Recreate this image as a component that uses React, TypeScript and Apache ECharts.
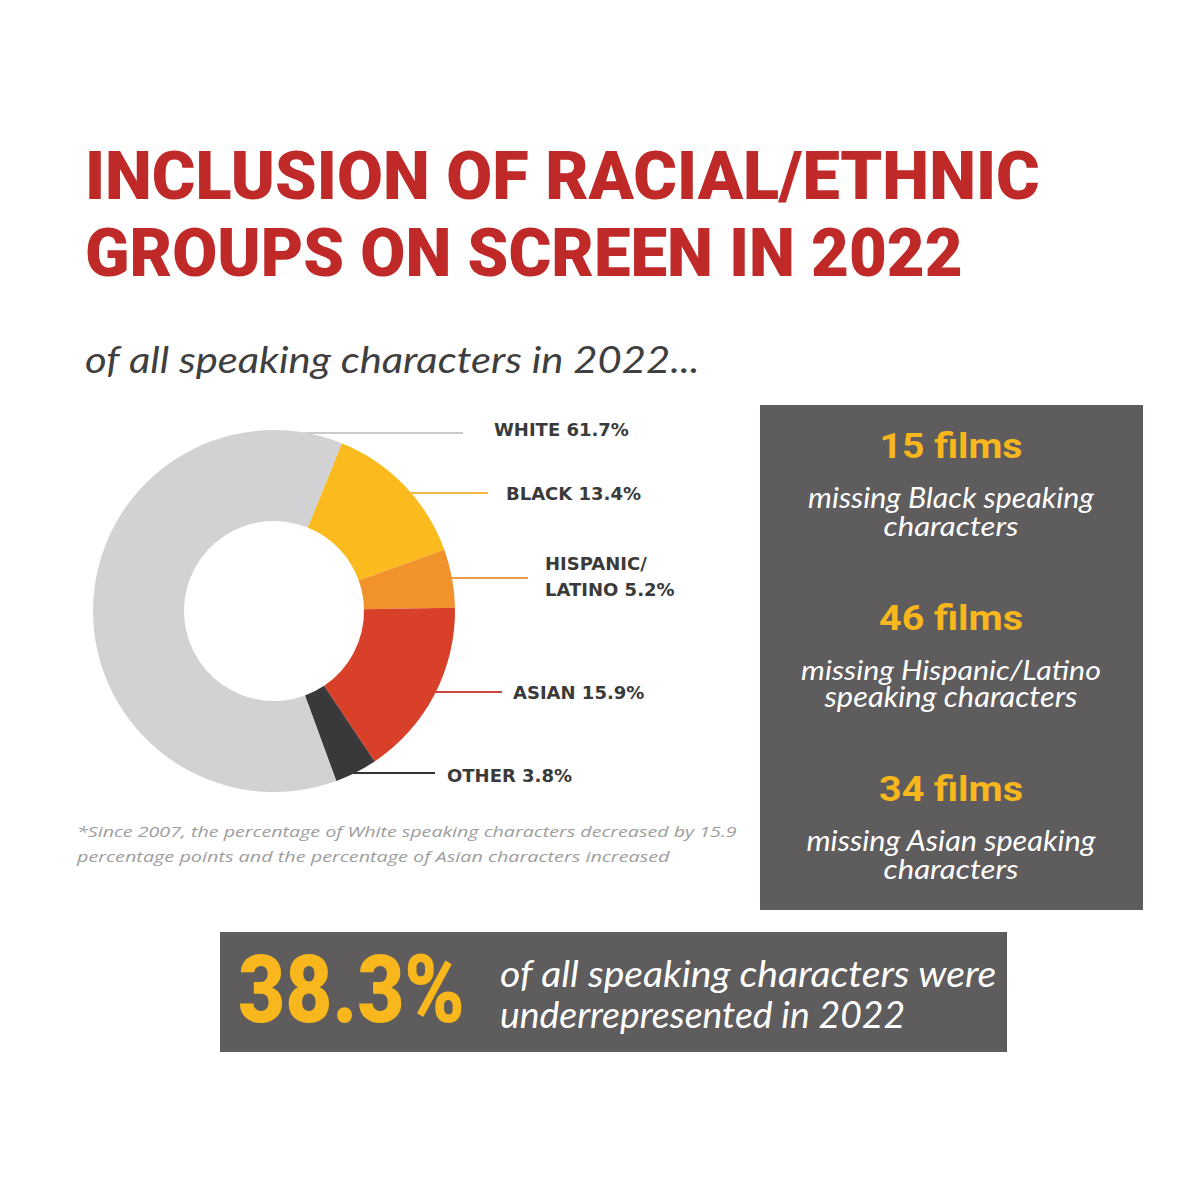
import React, { useEffect, useRef } from "react";
import * as echarts from "echarts";

// ---------- data ----------
const CATEGORIES = ["Black", "Hispanic/Latino", "Asian", "Other", "White"];
const SHARES = [13.4, 5.2, 15.9, 3.8, 61.7];
const FILM_COUNTS = [15, 46, 34];
const FILM_LINES = [
  ["missing Black speaking", "characters"],
  ["missing Hispanic/Latino", "speaking characters"],
  ["missing Asian speaking", "characters"],
];
const UNDERREPRESENTED = 38.3;
const TITLE_LINES = ["INCLUSION OF RACIAL/ETHNIC", "GROUPS ON SCREEN IN 2022"];
const SUBTITLE = "of all speaking characters in 2022...";
const FOOTNOTE_LINES = [
  "*Since 2007, the percentage of White speaking characters decreased by 15.9",
  "percentage points and the percentage of Asian characters increased",
];
const SUMMARY_LINES = ["of all speaking characters were", "underrepresented in 2022"];

// ---------- styles / layout ----------
const SLICE_COLORS = ["#fbbb1e", "#f2922c", "#d9402a", "#3a393a", "#d2d2d4"];
const LINE_COLORS = ["#f5b842", "#ee9a48", "#c9443a", "#333333", "#cacacc"];
const PIE_CX = 274;
const PIE_CY = 611;
const PIE_R0 = 90;
const PIE_R1 = 181;
const LABEL_X = [506, 545, 513, 447, 494];
const LABEL_Y = [493, 576, 692, 775, 429];
const LINE_Y = [493, 578, 692, 773, 433];
const LINE_END_X = [488, 528, 502, 435, 463];

const RED = "#bf2a29";
const BOX = "#5e5c5d";
const YELLOW = "#f8b71c";

const measureCtx =
  typeof document !== "undefined" ? document.createElement("canvas").getContext("2d") : null;

function textEl(t: string, o: any) {
  const size = o.size;
  const family = o.family;
  const weight = o.weight || "normal";
  const fstyle = o.style || "normal";
  const align = o.align || "left";
  let scaleX = 1;
  if (o.width && measureCtx) {
    measureCtx.font = `${fstyle} ${weight} ${size}px ${family}`;
    const w = measureCtx.measureText(t).width;
    if (w > 0) scaleX = o.width / w;
  }
  return {
    type: "text",
    x: o.x,
    y: o.y,
    scaleX,
    scaleY: 1,
    silent: true,
    z: 10,
    style: {
      text: t,
      x: 0,
      y: 0,
      fill: o.color,
      fontSize: size,
      fontFamily: family,
      fontWeight: weight,
      fontStyle: fstyle,
      align,
      verticalAlign: "middle",
      textAlign: align,
      textVerticalAlign: "middle",
    },
  };
}

export default function App() {
  const ref = useRef<HTMLDivElement>(null);
  useEffect(() => {
    if (!ref.current) return;
    const chart = echarts.init(ref.current, null, { renderer: "svg" });

    const graphics: any[] = [];
    // title
    graphics.push(
      textEl(TITLE_LINES[0], { x: 85, y: 177, size: 66, family: "Roboto", weight: 900, color: RED, width: 955 })
    );
    graphics.push(
      textEl(TITLE_LINES[1], { x: 85, y: 253, size: 66, family: "Roboto", weight: 900, color: RED, width: 878 })
    );
    // subtitle
    graphics.push(
      textEl(SUBTITLE, { x: 85, y: 359, size: 36, family: "Lato", style: "italic", weight: "normal", color: "#3f3f3f", width: 615 })
    );
    // footnote
    const fnW = [660, 593];
    FOOTNOTE_LINES.forEach((l, i) =>
      graphics.push(
        textEl(l, { x: 77, y: 831 + i * 25, size: 15, family: "'Open Sans'", style: "italic", color: "#9d9d9d", width: fnW[i] })
      )
    );
    // right box
    graphics.push({ type: "rect", shape: { x: 760, y: 405, width: 383, height: 505 }, style: { fill: BOX }, silent: true, z: 1 });
    const headW = [143, 144, 144];
    const lineW = [
      [286, 135],
      [300, 253],
      [290, 135],
    ];
    FILM_COUNTS.forEach((n, i) => {
      const base = 446 + i * 171.5;
      graphics.push(
        textEl(`${n} films`, { x: 951, y: base, size: 36, family: "Roboto", weight: "bold", color: YELLOW, align: "center", width: headW[i] })
      );
      FILM_LINES[i].forEach((l, j) =>
        graphics.push(
          textEl(l, { x: 951, y: base + 51 + j * 28, size: 28, family: "Lato", style: "italic", color: "#ffffff", align: "center", width: lineW[i][j] })
        )
      );
    });
    // bottom box
    graphics.push({ type: "rect", shape: { x: 220, y: 932, width: 787, height: 120 }, style: { fill: BOX }, silent: true, z: 1 });
    graphics.push(
      textEl(`${UNDERREPRESENTED}%`, { x: 238, y: 989, size: 94, family: "Roboto", weight: 900, color: YELLOW, width: 227 })
    );
    const sumW = [497, 405];
    SUMMARY_LINES.forEach((l, i) =>
      graphics.push(
        textEl(l, { x: 500, y: 973 + i * 41, size: 36, family: "Lato", style: "italic", color: "#ffffff", width: sumW[i] })
      )
    );

    chart.setOption({
      animation: false,
      backgroundColor: "#ffffff",
      graphic: { elements: graphics },
      series: [
        {
          type: "pie",
          center: [PIE_CX, PIE_CY],
          radius: [PIE_R0, PIE_R1],
          startAngle: 68,
          clockwise: true,
          avoidLabelOverlap: false,
          silent: true,
          data: CATEGORIES.map((name, i) => ({
            name,
            value: SHARES[i],
            itemStyle: { color: SLICE_COLORS[i] },
            labelLine: { lineStyle: { color: LINE_COLORS[i] } },
          })),
          itemStyle: { borderWidth: 0 },
          label: {
            show: true,
            position: "outside",
            formatter: (p: any) =>
              `${String(p.name).toUpperCase().replace("/", "/\n")} ${Number(p.value).toFixed(1)}%`,
            color: "#3a3a3a",
            fontFamily: "DejaVu Sans",
            fontWeight: "bold",
            fontSize: 18,
            lineHeight: 26,
            align: "left",
          },
          labelLine: { show: true, length: 10, length2: 10, smooth: false, lineStyle: { width: 2 } },
          labelLayout: (params: any) => {
            const i = params.dataIndex;
            const ly = LINE_Y[i];
            const dy = ly - PIE_CY;
            const sx = PIE_CX + Math.sqrt(Math.max(0, PIE_R1 * PIE_R1 - dy * dy)) - 2;
            return {
              x: LABEL_X[i],
              y: LABEL_Y[i],
              align: "left",
              verticalAlign: "middle",
              labelLinePoints: [
                [sx, ly],
                [LINE_END_X[i], ly],
                [LINE_END_X[i], ly],
              ],
            };
          },
        },
      ],
    });
    return () => chart.dispose();
  }, []);
  return (
    <div
      ref={ref}
      style={{ position: "absolute", left: 0, top: 0, width: 1200, height: 1200, background: "#fff" }}
    />
  );
}
